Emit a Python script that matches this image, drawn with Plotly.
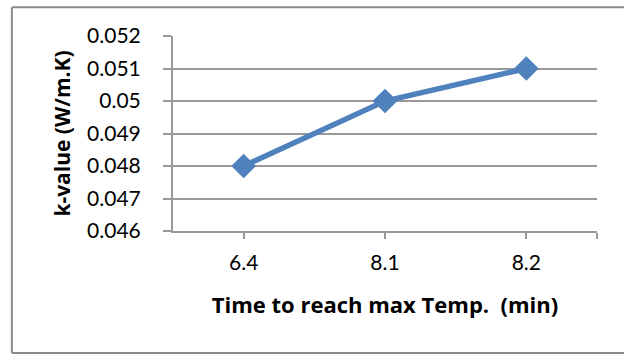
import plotly.graph_objects as go

# Time to reach max temperature (min) and measured thermal conductivity
times = ["6.4", "8.1", "8.2"]
k_values = [0.048, 0.050, 0.051]

y_ticks = [0.046, 0.047, 0.048, 0.049, 0.050, 0.051, 0.052]
y_labels = ["0.046", "0.047", "0.048", "0.049", "0.05", "0.051", "0.052"]

FONT = "Lato, 'Open Sans', sans-serif"
TITLE_FONT = "'Open Sans', Lato, sans-serif"
GRID = "#999999"
BLUE = "#4f81bd"
FRAME = "#8c8c8c"

xpos = list(range(len(times)))

fig = go.Figure(
    go.Scatter(
        x=xpos,
        y=k_values,
        mode="lines+markers",
        line=dict(color=BLUE, width=5.5),
        marker=dict(symbol="diamond", size=19, color=BLUE),
        showlegend=False,
        hoverinfo="skip",
    )
)

# outer chart frame: left, top and bottom edges (the right edge runs off the page)
frame_x0, frame_x1 = -0.38, 1.2
frame_y0, frame_y1 = -0.626, 1.148
frame = [
    dict(x0=frame_x0, x1=frame_x0, y0=frame_y0, y1=frame_y1),
    dict(x0=frame_x0, x1=frame_x1, y0=frame_y1, y1=frame_y1),
    dict(x0=frame_x0, x1=frame_x1, y0=frame_y0, y1=frame_y0),
]
shapes = [
    dict(type="line", xref="paper", yref="paper",
         line=dict(color=FRAME, width=2), layer="below", **f)
    for f in frame
]

fig.update_layout(
    width=624,
    height=355,
    margin=dict(l=173, r=27, t=36, b=124),
    paper_bgcolor="white",
    plot_bgcolor="white",
    font=dict(family=FONT, size=21, color="#000000"),
    xaxis=dict(
        range=[-0.5, 2.5],
        tickmode="array",
        tickvals=xpos + [2.5],
        ticktext=times + [""],
        tickfont=dict(family=FONT, size=21),
        ticks="outside",
        ticklen=6,
        tickwidth=1.5,
        tickcolor=GRID,
        showline=True,
        linecolor=GRID,
        linewidth=2,
        showgrid=False,
        zeroline=False,
        ticklabelstandoff=6,
        title=dict(
            text="<b>Time to reach max Temp.  (min)</b>",
            font=dict(family=TITLE_FONT, size=22),
            standoff=24,
        ),
        automargin=False,
        fixedrange=True,
    ),
    yaxis=dict(
        range=[0.046, 0.052],
        tickmode="array",
        tickvals=y_ticks,
        ticktext=y_labels,
        tickfont=dict(family=FONT, size=21),
        ticks="outside",
        ticklen=8,
        tickwidth=1.5,
        tickcolor=GRID,
        showline=True,
        linecolor=GRID,
        linewidth=2,
        showgrid=True,
        gridcolor=GRID,
        gridwidth=2,
        zeroline=False,
        ticklabelstandoff=18,
        title=dict(
            text="<b>k-value (W/m.K)</b>",
            font=dict(family=TITLE_FONT, size=21),
            standoff=11,
        ),
        automargin=False,
        fixedrange=True,
    ),
    shapes=shapes,
)

fig.write_html("out.html")
